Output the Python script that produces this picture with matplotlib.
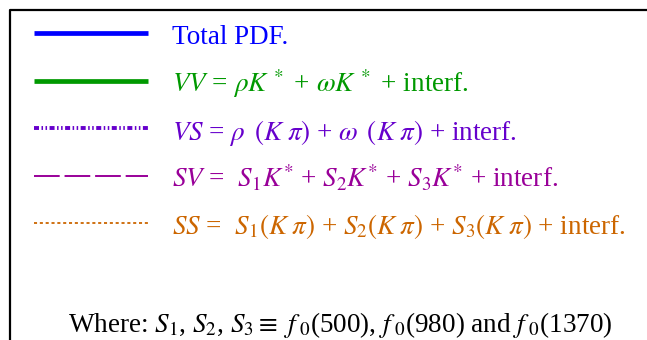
import matplotlib
matplotlib.use("Agg")
import matplotlib.pyplot as plt

plt.rcParams['font.family'] = 'serif'
plt.rcParams['font.serif'] = ['Liberation Serif', 'DejaVu Serif']
plt.rcParams['mathtext.fontset'] = 'stix'
plt.rcParams['lines.scale_dashes'] = False

# legend entries
labels = [
    r"Total PDF.",
    r"$VV$ = $\rho K^{\,*}$ + $\omega K^{\,*}$ + interf.",
    r"$VS$ = $\rho\ \,(K\;\pi)$ + $\omega\ \,(K\;\pi)$ + interf.",
    r"$SV$ =  $S_1K^{*}$ + $S_2K^{*}$ + $S_3K^{*}$ + interf.",
    r"$SS$ =  $S_1(K\;\pi)$ + $S_2(K\;\pi)$ + $S_3(K\;\pi)$ + interf.",
]
colors = ['#0000ff', '#009900', '#6600cc', '#990099', '#cc6600']
widths = [3.4, 3.4, 2.8, 1.4, 1.3]
dashes = [None, None,
          (0, (3.6, 1.8, 1.1, 1.8, 1.1, 1.8)),
          (0, (18.5, 3.5)),
          (0, (2.2, 2.0))]
footnote = r"Where: $S_1$, $S_2$, $S_3 \equiv\ f_{\ 0}$(500), $f_{\ 0}$(980) and $f_{\ 0}$(1370)"

fig = plt.figure(figsize=(6.47, 3.40), dpi=100)
ax = fig.add_axes([0, 0, 1, 1])
ax.set_xlim(0, 647)
ax.set_ylim(340, 0)
ax.axis('off')

# frame of the legend box (only left and top visible in the crop)
ax.plot([10, 10, 660], [360, 10, 10], color='black', lw=1.6, clip_on=False)

row_y = [33, 80.5, 128, 175.5, 222.5]
for i in range(len(labels)):
    y = row_y[i]
    ls = '-' if dashes[i] is None else dashes[i]
    ax.plot([34, 148], [y, y], color=colors[i], lw=widths[i], linestyle=ls,
            solid_capstyle='butt', dash_capstyle='butt')
    ax.text(172, y + 11.5, labels[i], color=colors[i], fontsize=19.5,
            va='baseline', ha='left')

ax.text(68, 332, footnote, color='black', fontsize=19.5, va='baseline', ha='left')

fig.savefig('out.png', dpi=100)
